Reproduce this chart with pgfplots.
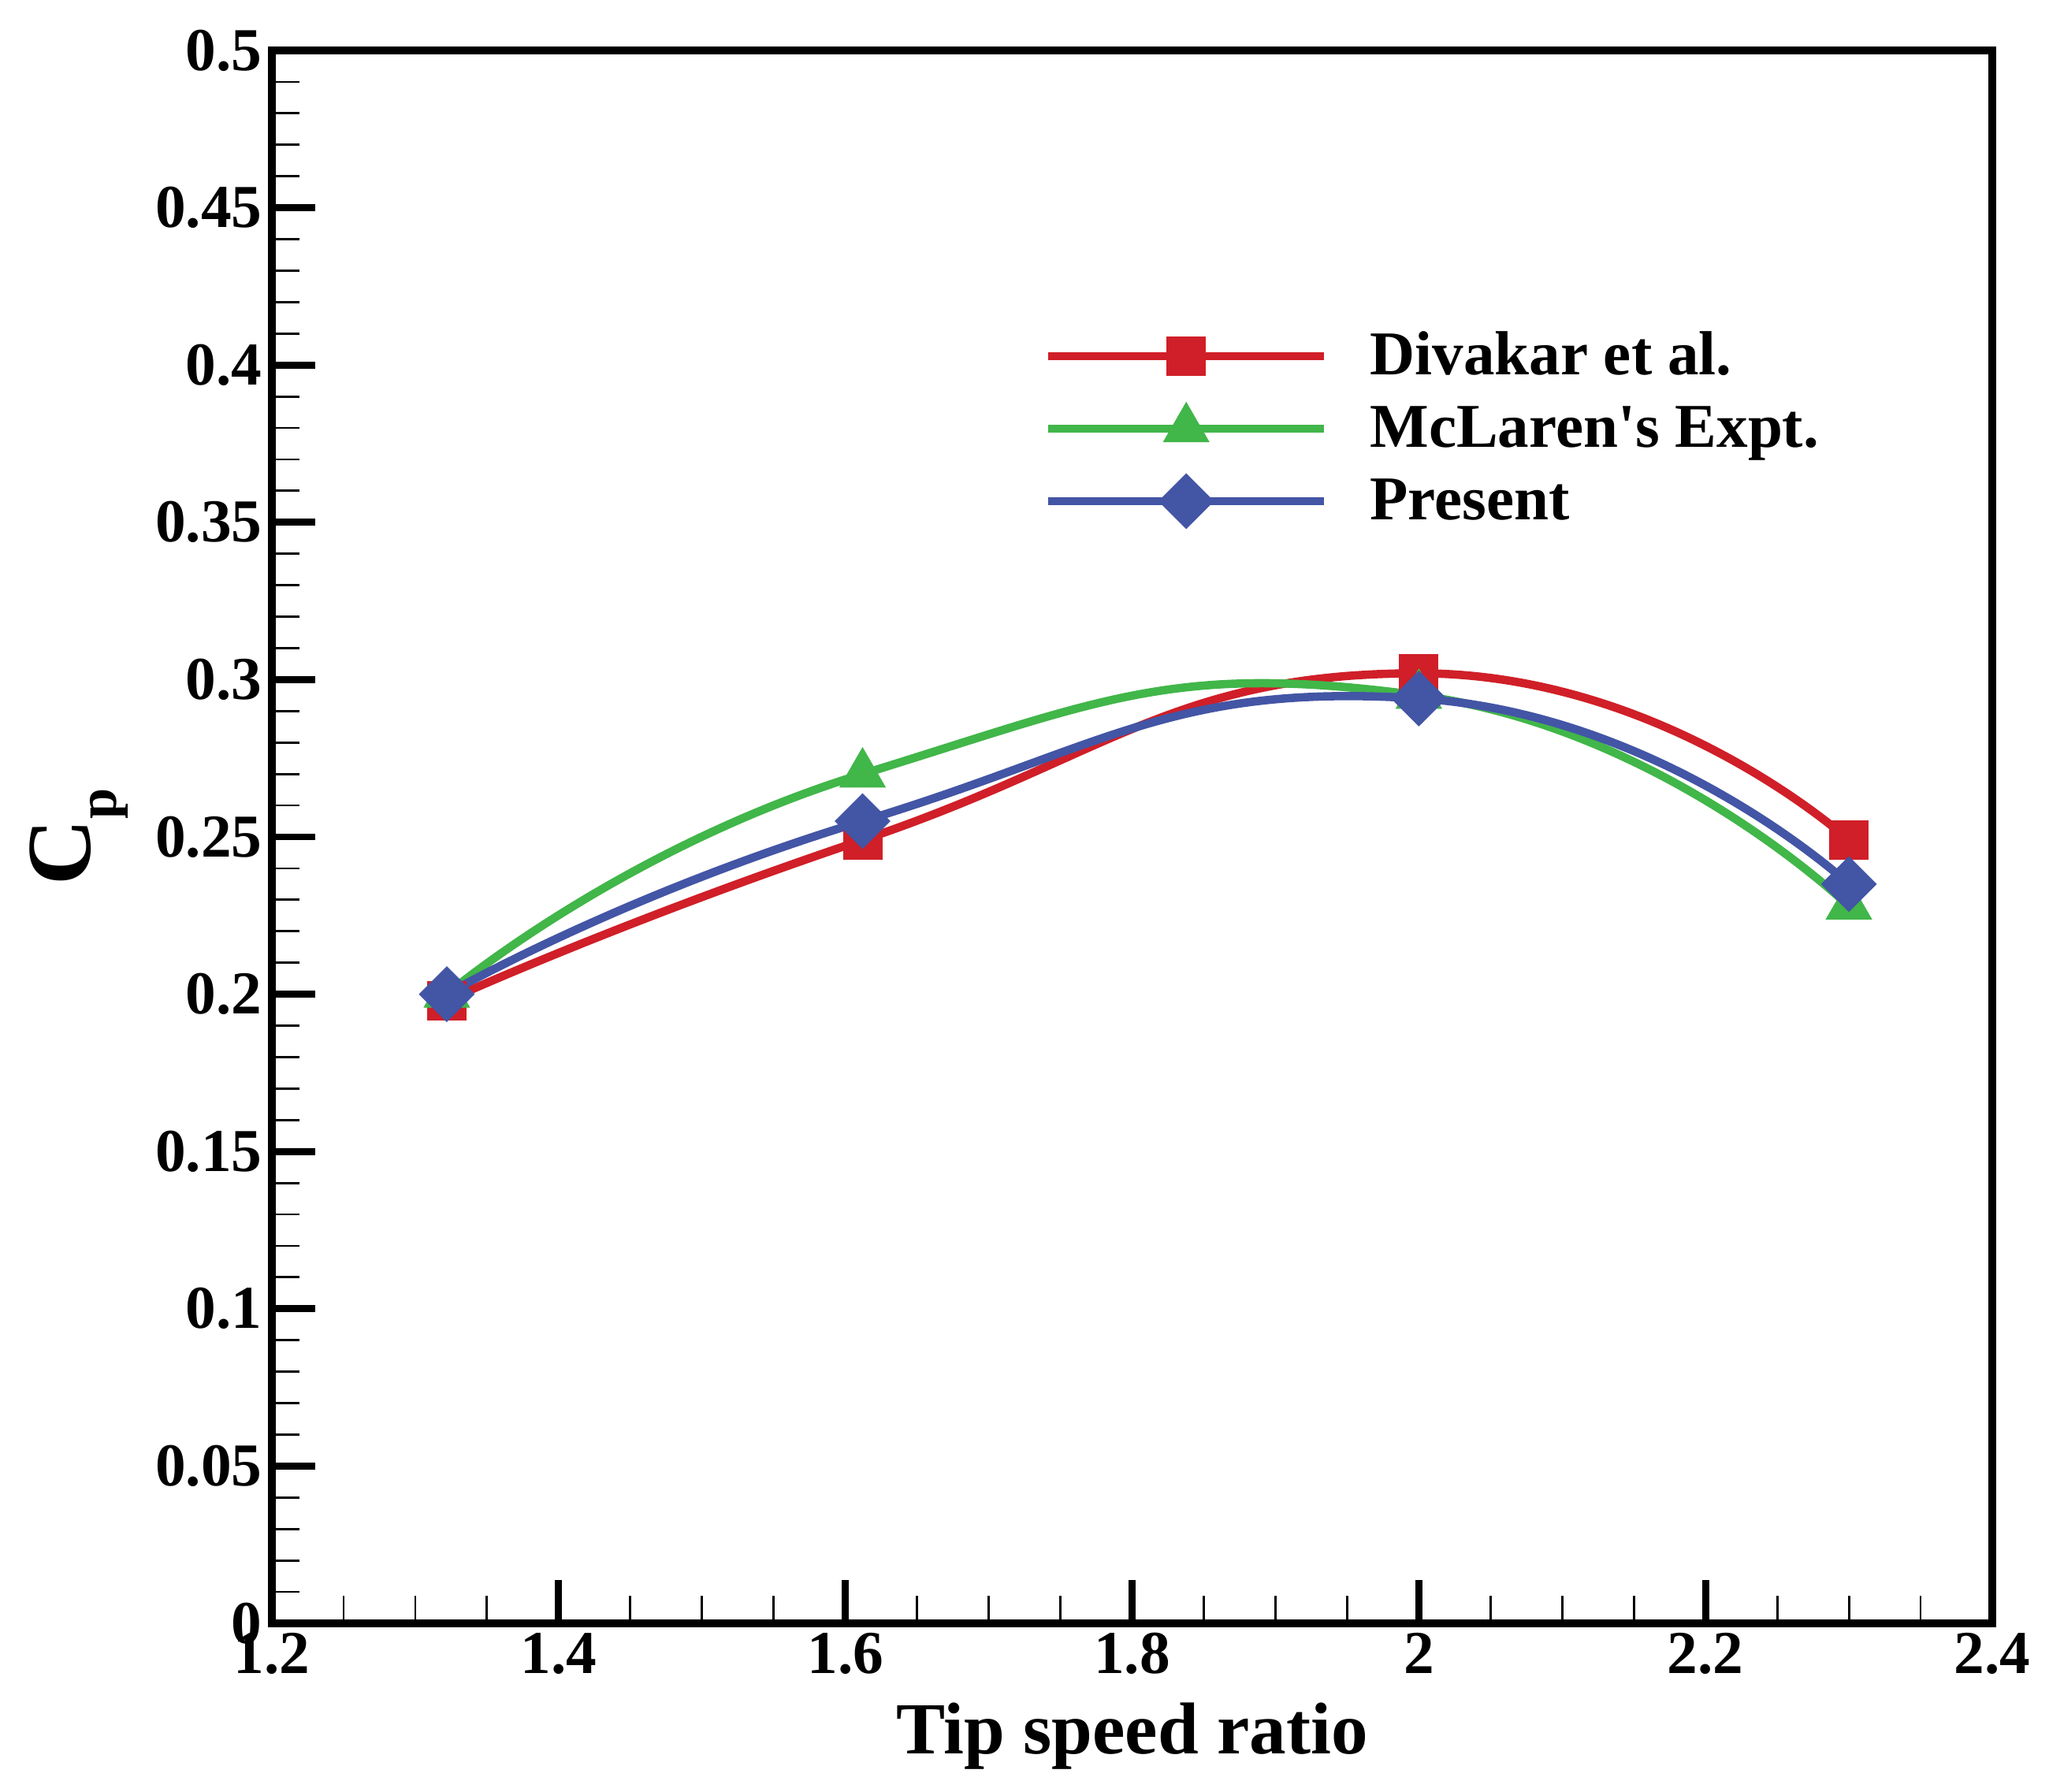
\documentclass[border=0pt]{standalone}
\usepackage{fontspec}
\setmainfont{Liberation Serif}
\usepackage{pgfplots}
\pgfplotsset{compat=1.18}
\definecolor{cred}{RGB}{208,31,40}
\definecolor{cgreen}{RGB}{65,182,73}
\definecolor{cblue}{RGB}{67,85,165}
\begin{document}
\begin{tikzpicture}
\path[use as bounding box] (-3.45cm,-2.13cm) rectangle (22.55cm,20.60cm);
\begin{axis}[
  at={(0,0)}, anchor=south west,
  scale only axis, width=21.83cm, height=19.96cm,
  xmin=1.2, xmax=2.4, ymin=0, ymax=0.5,
  xtick={1.2,1.4,1.6,1.8,2.0,2.2,2.4},
  ytick={0,0.05,0.1,0.15,0.2,0.25,0.3,0.35,0.4,0.45,0.5},
  minor x tick num=3, minor y tick num=4,
  tick align=inside, tick pos=left,
  axis line style={line width=2.8pt},
  major tick length=0.55cm, minor tick length=0.35cm,
  every major tick/.append style={line width=2.5pt, black},
  every minor tick/.append style={line width=0.8pt, black},
  ticklabel style={font=\fontsize{22}{26}\selectfont\bfseries},
  xticklabel style={/pgf/number format/fixed, /pgf/number format/precision=2},
  yticklabel style={/pgf/number format/fixed, /pgf/number format/precision=2},
  /pgf/number format/assume math mode=true,
  xlabel={Tip speed ratio},
  xlabel style={font=\fontsize{26.5}{30}\selectfont\bfseries, at={(axis description cs:0.5,-0.0827)}, anchor=base},
  ylabel={C\raisebox{-0.28em}{\fontsize{20}{24}\selectfont p}},
  ylabel style={font=\fontsize{33}{38}\selectfont\bfseries, at={(axis description cs:-0.1054,0.5)}, anchor=base},
  legend style={draw=none, fill=none, inner sep=0pt, outer sep=0pt,
    at={(axis description cs:0.4489,0.7595)}, anchor=west,
    font=\fontsize{22.5}{27}\selectfont\bfseries,
    nodes={inner sep=0pt, text height=0.62cm, text depth=0.16cm},
    row sep=0.14cm,
    /tikz/every odd column/.append style={column sep=0.53cm}},
  legend cell align=left,
  legend image code/.code={\draw[mark repeat=2,mark phase=2,#1] plot coordinates {(0cm,0cm) (1.75cm,0cm) (3.5cm,0cm)};},
]
\addplot[cred, line width=3pt, smooth, tension=0.9, mark=square*, mark size=0.245cm, mark options={solid, line width=0.2pt, fill=cred}]
  coordinates {(1.322,0.198) (1.612,0.249) (2.0,0.302) (2.3,0.249)};
\addlegendentry{Divakar et al.}
\addplot[cgreen, line width=3pt, smooth, tension=0.9, mark=triangle*, mark size=0.335cm, mark options={solid, line width=0.2pt, fill=cgreen}]
  coordinates {(1.322,0.200) (1.612,0.270) (2.0,0.295) (2.3,0.228)};
\addlegendentry{McLaren\textquotesingle s Expt.}
\addplot[cblue, line width=3pt, smooth, tension=0.9, mark=square*, mark size=0.247cm, mark options={solid, rotate=45, line width=0.2pt, fill=cblue}]
  coordinates {(1.322,0.200) (1.612,0.255) (2.0,0.294) (2.3,0.235)};
\addlegendentry{Present}
\end{axis}
\end{tikzpicture}
\end{document}
